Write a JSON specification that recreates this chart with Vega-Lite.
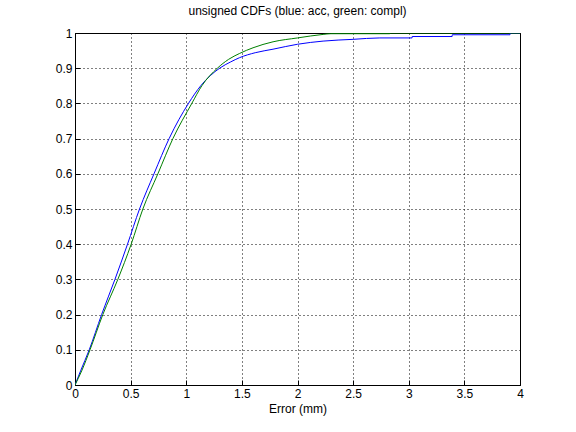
{
  "$schema": "https://vega.github.io/schema/vega-lite/v6.json",
  "autosize": {"type": "none"},
  "padding": {"left": 75, "top": 33, "right": 56, "bottom": 47},
  "width": 445,
  "height": 352,
  "background": "white",
  "title": {"text": "unsigned CDFs (blue: acc, green: compl)", "fontSize": 12, "fontWeight": "normal", "font": "Liberation Sans", "color": "black", "offset": 9},
  "config": {
    "view": {"stroke": "black", "strokeWidth": 1},
    "axis": {"labelFont": "Liberation Sans", "titleFont": "Liberation Sans", "labelFontSize": 12, "titleFontSize": 12, "titleFontWeight": "normal", "labelColor": "black", "titleColor": "black", "domainColor": "black", "tickColor": "black", "gridColor": "black", "gridOpacity": 1, "gridDash": [1, 3], "gridWidth": 1, "tickSize": -5}
  },
  "data": {"values": [
    {"x": 0, "y": 0, "s": "acc", "o": 0},
    {"x": 0.05, "y": 0.04, "s": "acc", "o": 1},
    {"x": 0.128, "y": 0.1, "s": "acc", "o": 2},
    {"x": 0.239, "y": 0.2, "s": "acc", "o": 3},
    {"x": 0.359, "y": 0.3, "s": "acc", "o": 4},
    {"x": 0.472, "y": 0.4, "s": "acc", "o": 5},
    {"x": 0.58, "y": 0.5, "s": "acc", "o": 6},
    {"x": 0.71, "y": 0.6, "s": "acc", "o": 7},
    {"x": 0.846, "y": 0.7, "s": "acc", "o": 8},
    {"x": 1.02, "y": 0.8, "s": "acc", "o": 9},
    {"x": 1.13, "y": 0.85, "s": "acc", "o": 10},
    {"x": 1.3, "y": 0.9, "s": "acc", "o": 11},
    {"x": 1.4, "y": 0.918, "s": "acc", "o": 12},
    {"x": 1.48, "y": 0.93, "s": "acc", "o": 13},
    {"x": 1.62, "y": 0.944, "s": "acc", "o": 14},
    {"x": 1.78, "y": 0.954, "s": "acc", "o": 15},
    {"x": 2.0, "y": 0.968, "s": "acc", "o": 16},
    {"x": 2.23, "y": 0.977, "s": "acc", "o": 17},
    {"x": 2.5, "y": 0.982, "s": "acc", "o": 18},
    {"x": 2.74, "y": 0.986, "s": "acc", "o": 19},
    {"x": 3.03, "y": 0.986, "s": "acc", "o": 20},
    {"x": 3.031, "y": 0.99, "s": "acc", "o": 21},
    {"x": 3.39, "y": 0.99, "s": "acc", "o": 22},
    {"x": 3.391, "y": 0.995, "s": "acc", "o": 23},
    {"x": 3.91, "y": 0.995, "s": "acc", "o": 24},
    {"x": 3.911, "y": 1.0, "s": "acc", "o": 25},
    {"x": 4.0, "y": 1.0, "s": "acc", "o": 26},
    {"x": 0, "y": 0, "s": "compl", "o": 0},
    {"x": 0.06, "y": 0.04, "s": "compl", "o": 1},
    {"x": 0.135, "y": 0.1, "s": "compl", "o": 2},
    {"x": 0.25, "y": 0.2, "s": "compl", "o": 3},
    {"x": 0.385, "y": 0.3, "s": "compl", "o": 4},
    {"x": 0.505, "y": 0.4, "s": "compl", "o": 5},
    {"x": 0.61, "y": 0.5, "s": "compl", "o": 6},
    {"x": 0.745, "y": 0.6, "s": "compl", "o": 7},
    {"x": 0.88, "y": 0.7, "s": "compl", "o": 8},
    {"x": 1.05, "y": 0.8, "s": "compl", "o": 9},
    {"x": 1.14, "y": 0.85, "s": "compl", "o": 10},
    {"x": 1.28, "y": 0.9, "s": "compl", "o": 11},
    {"x": 1.38, "y": 0.925, "s": "compl", "o": 12},
    {"x": 1.48, "y": 0.942, "s": "compl", "o": 13},
    {"x": 1.6, "y": 0.958, "s": "compl", "o": 14},
    {"x": 1.78, "y": 0.975, "s": "compl", "o": 15},
    {"x": 2.0, "y": 0.986, "s": "compl", "o": 16},
    {"x": 2.23, "y": 0.996, "s": "compl", "o": 17},
    {"x": 2.3, "y": 0.998, "s": "compl", "o": 18},
    {"x": 2.83, "y": 0.998, "s": "compl", "o": 19},
    {"x": 2.831, "y": 1.0, "s": "compl", "o": 20},
    {"x": 4.0, "y": 1.0, "s": "compl", "o": 21}
  ]},
  "mark": {"type": "line", "strokeWidth": 1, "clip": true, "interpolate": "monotone"},
  "encoding": {
    "x": {"field": "x", "type": "quantitative", "title": "Error (mm)", "scale": {"domain": [0, 4], "nice": false, "zero": false}, "axis": {"values": [0, 0.5, 1, 1.5, 2, 2.5, 3, 3.5, 4], "format": "~g", "labelPadding": 8, "titlePadding": 4, "labelFlush": false}},
    "y": {"field": "y", "type": "quantitative", "title": null, "scale": {"domain": [0, 1], "nice": false}, "axis": {"values": [0, 0.1, 0.2, 0.3, 0.4, 0.5, 0.6, 0.7, 0.8, 0.9, 1], "format": "~g", "labelPadding": 8, "labelFlush": false}},
    "color": {"field": "s", "type": "nominal", "scale": {"domain": ["acc", "compl"], "range": ["#0000ff", "#008000"]}, "legend": null},
    "order": {"field": "o", "type": "quantitative"}
  }
}
